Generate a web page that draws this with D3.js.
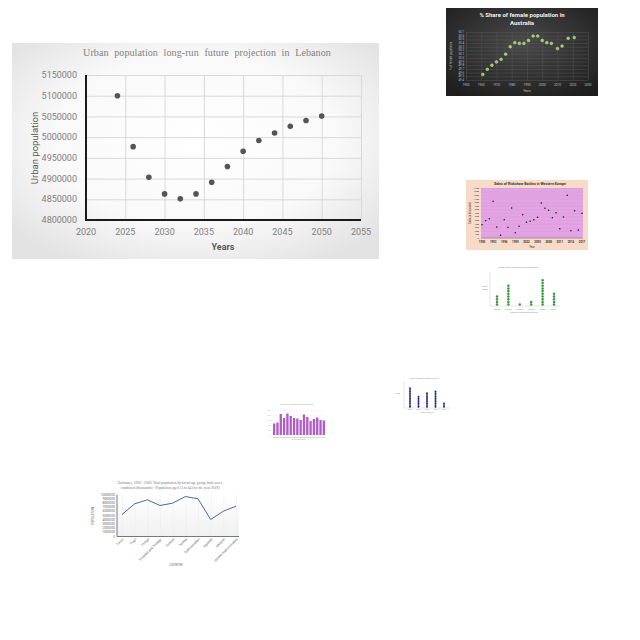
<html>
<head>
  <meta charset="utf-8">
  <script src="https://d3js.org/d3.v7.min.js"></script>
  <style>
    body { margin: 0; background: #fff; }
    text { font-family: Roboto, sans-serif; }
  </style>
</head>
<body>
  <svg id="chart" width="640" height="640"></svg>
  <script>
    // ---- main chart: urban population, Lebanon
    const urbanYears = [2024, 2026, 2028, 2030, 2032, 2034, 2036, 2038, 2040, 2042, 2044, 2046, 2048, 2050];
    const urbanPop = [5100000, 4977000, 4903000, 4863000, 4851000, 4863000, 4891000, 4929000, 4966000, 4992000, 5010000, 5026000, 5040000, 5051000];
    const urbanXTicks = [2020, 2025, 2030, 2035, 2040, 2045, 2050, 2055];
    const urbanYTicks = [4800000, 4850000, 4900000, 4950000, 5000000, 5050000, 5100000, 5150000];

    // ---- thumbnail: female share, Australia
    const ausYears = [1961, 1964, 1967, 1970, 1973, 1976, 1979, 1982, 1985, 1988, 1991, 1994, 1997, 2000, 2003, 2006, 2010, 2013, 2017, 2021];
    const ausShare = [49.55, 49.69, 49.80, 49.89, 49.96, 50.10, 50.30, 50.41, 50.39, 50.39, 50.47, 50.59, 50.59, 50.47, 50.41, 50.39, 50.25, 50.32, 50.53, 50.55];
    const ausXTicks = [1950, 1960, 1970, 1980, 1990, 2000, 2010, 2020, 2030];
    const ausYTicks = d3.range(49.4, 50.75, 0.1);

    // ---- thumbnail: sales scatter
    const salesYears = d3.range(1990, 2018);
    const salesValues = [373, 485, 541, 1027, 308, 75, 513, 299, 840, 149, 327, 653, 439, 467, 513, 579, 980, 831, 775, 569, 709, 261, 588, 1195, 205, 765, 224, 691];
    const salesXTicks = [1990, 1993, 1996, 1999, 2002, 2005, 2008, 2011, 2014, 2017];
    const salesYTicks = d3.range(0, 1500, 100);

    // ---- thumbnail: green dot plot
    const greenCats = ["A", "B", "C", "D", "E", "F"];
    const greenCounts = [4, 8, 1, 2, 10, 5];

    // ---- thumbnail: navy dot plot
    const navyCats = ["A", "B", "C", "D", "E"];
    const navyCounts = [12, 7, 9, 10, 3];

    // ---- thumbnail: purple bars
    const purpleValues = [46, 50, 84, 68, 86, 76, 68, 66, 60, 82, 72, 56, 64, 70, 60, 58];

    // ---- thumbnail: population line
    const popCountries = ["Timor", "Togo", "Tonga", "Trinidad and Tobago", "Tunisia", "Turkey", "Turkmenistan", "Uganda", "Ukraine", "United Arab Emirates"];
    const popValues = [5240000, 7780000, 8730000, 7380000, 7940000, 9520000, 8970000, 4050000, 6030000, 7220000];
    const popYTicks = d3.range(0, 11000000, 1000000);

    const svg = d3.select("svg#chart");
    const defs = svg.append("defs");

    // ================= main chart =================
    let mainBg = defs.append("radialGradient").attr("id", "mainBg")
      .attr("cx", "50%").attr("cy", "45%").attr("r", "65%");
    mainBg.append("stop").attr("offset", "0%").attr("stop-color", "#ffffff");
    mainBg.append("stop").attr("offset", "60%").attr("stop-color", "#f9f9f9");
    mainBg.append("stop").attr("offset", "100%").attr("stop-color", "#e3e3e3");

    const main = svg.append("g").attr("id", "main");
    main.append("rect")
      .attr("x", 12).attr("y", 43).attr("width", 367).attr("height", 216)
      .attr("fill", "url(#mainBg)");

    const xMain = d3.scaleLinear().domain([2020, 2055]).range([86, 361]);
    const yMain = d3.scaleLinear().domain([4800000, 5150000]).range([220, 75]);

    // gridlines
    main.append("g")
      .attr("transform", `translate(0,220)`)
      .call(d3.axisBottom(xMain).tickValues(urbanXTicks).tickSize(-145).tickFormat(""))
      .call(g => g.select(".domain").remove())
      .call(g => g.selectAll("line").attr("stroke", "#d9d9d9"));
    main.append("g")
      .attr("transform", `translate(86,0)`)
      .call(d3.axisLeft(yMain).tickValues(urbanYTicks).tickSize(-275).tickFormat(""))
      .call(g => g.select(".domain").remove())
      .call(g => g.selectAll("line").attr("stroke", "#d9d9d9"));

    // axis lines
    main.append("line").attr("x1", 86).attr("x2", 86).attr("y1", 75).attr("y2", 221)
      .attr("stroke", "#1a1a1a").attr("stroke-width", 2);
    main.append("line").attr("x1", 85).attr("x2", 361).attr("y1", 220).attr("y2", 220)
      .attr("stroke", "#1a1a1a").attr("stroke-width", 2);

    // tick labels
    main.append("g").selectAll("text").data(urbanXTicks).join("text")
      .attr("x", d => xMain(d)).attr("y", 235)
      .attr("text-anchor", "middle")
      .attr("font-size", 9).attr("fill", "#808080")
      .text(d => d);
    main.append("g").selectAll("text").data(urbanYTicks).join("text")
      .attr("x", 77).attr("y", d => yMain(d) + 3.2)
      .attr("text-anchor", "end")
      .attr("font-size", 9).attr("fill", "#808080")
      .text(d => d);

    main.append("text")
      .attr("x", 223).attr("y", 250)
      .attr("text-anchor", "middle")
      .attr("font-size", 9).attr("font-weight", "bold").attr("fill", "#595959")
      .text("Years");
    main.append("text")
      .attr("transform", "translate(38,148) rotate(-90)")
      .attr("text-anchor", "middle")
      .attr("font-size", 9.5).attr("fill", "#595959")
      .text("Urban population");
    main.append("text")
      .attr("x", 207).attr("y", 55.5)
      .attr("text-anchor", "middle")
      .style("font-family", "'Liberation Serif', serif")
      .attr("font-size", 10).attr("letter-spacing", 0.1).attr("word-spacing", 3)
      .attr("fill", "#7f7f7f")
      .text("Urban population long-run future projection in Lebanon");

    main.append("g").selectAll("circle").data(urbanYears).join("circle")
      .attr("cx", d => xMain(d))
      .attr("cy", (d, i) => yMain(urbanPop[i]))
      .attr("r", 2.8)
      .attr("fill", "#555555");

    // ================= Australia thumbnail =================
    let ausBg = defs.append("radialGradient").attr("id", "ausBg")
      .attr("cx", "50%").attr("cy", "40%").attr("r", "70%");
    ausBg.append("stop").attr("offset", "0%").attr("stop-color", "#4a4a4a");
    ausBg.append("stop").attr("offset", "100%").attr("stop-color", "#1e1e1e");

    const aus = svg.append("g").attr("id", "aus");
    aus.append("rect").attr("x", 446).attr("y", 8).attr("width", 152).attr("height", 88)
      .attr("fill", "url(#ausBg)");
    const xAus = d3.scaleLinear().domain([1950, 2030]).range([466, 588]);
    const yAus = d3.scaleLinear().domain([49.4, 50.7]).range([80, 32]);

    aus.append("g").attr("transform", "translate(0,80)")
      .call(d3.axisBottom(xAus).tickValues(ausXTicks).tickSize(-48).tickFormat(""))
      .call(g => g.select(".domain").remove())
      .call(g => g.selectAll("line").attr("stroke", "#5e5e5e").attr("stroke-width", 0.4));
    aus.append("g").attr("transform", "translate(466,0)")
      .call(d3.axisLeft(yAus).tickValues(ausYTicks).tickSize(-122).tickFormat(""))
      .call(g => g.select(".domain").remove())
      .call(g => g.selectAll("line").attr("stroke", "#5e5e5e").attr("stroke-width", 0.4));

    aus.append("g").selectAll("text").data(ausXTicks).join("text")
      .attr("x", d => xAus(d)).attr("y", 86)
      .attr("text-anchor", "middle").attr("font-size", 3.2).attr("fill", "#bdbdbd")
      .text(d => d);
    aus.append("g").selectAll("text").data(ausYTicks).join("text")
      .attr("x", 464).attr("y", d => yAus(d) + 1)
      .attr("text-anchor", "end").attr("font-size", 2.8).attr("fill", "#bdbdbd")
      .text(d => d3.format(".1f")(d));
    aus.append("text").attr("x", 527).attr("y", 92)
      .attr("text-anchor", "middle").attr("font-size", 3).attr("fill", "#bdbdbd")
      .text("Years");
    aus.append("text").attr("transform", "translate(452,56) rotate(-90)")
      .attr("text-anchor", "middle").attr("font-size", 2.8).attr("fill", "#bdbdbd")
      .text("% of female population");
    aus.append("text").attr("x", 522).attr("y", 17)
      .attr("text-anchor", "middle").attr("font-size", 6).attr("font-weight", "bold").attr("fill", "#f2f2f2")
      .text("% Share of female population in");
    aus.append("text").attr("x", 522).attr("y", 24.5)
      .attr("text-anchor", "middle").attr("font-size", 6).attr("font-weight", "bold").attr("fill", "#f2f2f2")
      .text("Australia");
    aus.append("g").selectAll("circle").data(ausYears).join("circle")
      .attr("cx", d => xAus(d))
      .attr("cy", (d, i) => yAus(ausShare[i]))
      .attr("r", 1.4)
      .attr("fill", "#92d050").attr("stroke", "#dff5c8").attr("stroke-width", 0.4);

    // ================= sales thumbnail =================
    const sales = svg.append("g").attr("id", "sales");
    sales.append("rect").attr("x", 466).attr("y", 180).attr("width", 122).attr("height", 70)
      .attr("fill", "#f7dac8");
    sales.append("rect").attr("x", 481).attr("y", 188).attr("width", 102).attr("height", 50)
      .attr("fill", "#e3a4e3");
    const xSales = d3.scaleLinear().domain([1990, 2017]).range([482, 582]);
    const ySales = d3.scaleLinear().domain([0, 1400]).range([238, 188]);
    sales.append("g").attr("transform", "translate(481,0)")
      .call(d3.axisLeft(ySales).tickValues(salesYTicks).tickSize(-102).tickFormat(""))
      .call(g => g.select(".domain").remove())
      .call(g => g.selectAll("line").attr("stroke", "#d48fd6").attr("stroke-width", 0.3));
    sales.append("line").attr("x1", 481).attr("x2", 583).attr("y1", 238).attr("y2", 238)
      .attr("stroke", "#555").attr("stroke-width", 0.4);
    sales.append("g").selectAll("text").data(salesXTicks).join("text")
      .attr("x", d => xSales(d)).attr("y", 242.5)
      .attr("text-anchor", "middle").attr("font-size", 2.8).attr("font-weight", "bold").attr("fill", "#333")
      .text(d => d);
    sales.append("g").selectAll("text").data(salesYTicks).join("text")
      .attr("x", 479).attr("y", d => ySales(d) + 0.9)
      .attr("text-anchor", "end").attr("font-size", 2.5).attr("fill", "#333")
      .text(d => d);
    sales.append("text").attr("x", 532).attr("y", 247.5)
      .attr("text-anchor", "middle").attr("font-size", 2.8).attr("fill", "#333")
      .text("Year");
    sales.append("text").attr("transform", "translate(471,213) rotate(-90)")
      .attr("text-anchor", "middle").attr("font-size", 2.6).attr("fill", "#333")
      .text("Sales in thousands");
    sales.append("text").attr("x", 530).attr("y", 184.5)
      .attr("text-anchor", "middle").attr("font-size", 3.6).attr("font-weight", "bold").attr("fill", "#333")
      .text("Sales of Rickshaw Bottles in Western Europe");
    sales.append("g").selectAll("circle").data(salesYears).join("circle")
      .attr("cx", d => xSales(d))
      .attr("cy", (d, i) => ySales(salesValues[i]))
      .attr("r", 0.8).attr("fill", "#1a1a1a");

    // ================= green dot plot thumbnail =================
    const green = svg.append("g").attr("id", "green");
    const xGreen = d3.scalePoint().domain(greenCats).range([497, 554]);
    green.append("line").attr("x1", 490).attr("x2", 560).attr("y1", 306).attr("y2", 306)
      .attr("stroke", "#bbb").attr("stroke-width", 0.4);
    green.append("line").attr("x1", 490).attr("x2", 490).attr("y1", 272).attr("y2", 306)
      .attr("stroke", "#bbb").attr("stroke-width", 0.4);
    greenCats.forEach((c, i) => {
      green.append("g").selectAll("circle").data(d3.range(greenCounts[i])).join("circle")
        .attr("cx", xGreen(c))
        .attr("cy", k => 304.6 - k * 2.7)
        .attr("r", 1.25)
        .attr("fill", "#3a9a3a");
    });
    green.append("g").selectAll("text").data(greenCats).join("text")
      .attr("x", d => xGreen(d)).attr("y", 309.5)
      .attr("text-anchor", "middle").attr("font-size", 1.8).attr("fill", "#888")
      .text(d => "Group " + d);
    green.append("text").attr("x", 524).attr("y", 313)
      .attr("text-anchor", "middle").attr("font-size", 1.8).attr("fill", "#888")
      .text("Number of observations per group");
    green.append("text").attr("x", 518).attr("y", 268)
      .attr("text-anchor", "middle").attr("font-size", 1.8).attr("fill", "#888")
      .text("Number of items per group in the selected sample");
    green.append("text").attr("x", 485).attr("y", 287)
      .attr("text-anchor", "middle").attr("font-size", 2).attr("fill", "#777")
      .text("No. of");
    green.append("text").attr("x", 485).attr("y", 290)
      .attr("text-anchor", "middle").attr("font-size", 2).attr("fill", "#777")
      .text("items");

    // ================= navy dot plot thumbnail =================
    const navy = svg.append("g").attr("id", "navy");
    const xNavy = d3.scalePoint().domain(navyCats).range([410, 444]);
    navy.append("line").attr("x1", 404).attr("x2", 450).attr("y1", 408).attr("y2", 408)
      .attr("stroke", "#bbb").attr("stroke-width", 0.4);
    navy.append("line").attr("x1", 404).attr("x2", 404).attr("y1", 382).attr("y2", 408)
      .attr("stroke", "#bbb").attr("stroke-width", 0.4);
    navyCats.forEach((c, i) => {
      navy.append("g").selectAll("circle").data(d3.range(navyCounts[i])).join("circle")
        .attr("cx", xNavy(c))
        .attr("cy", k => 406.8 - k * 1.7)
        .attr("r", 0.95)
        .attr("fill", "#1f1f7a");
    });
    navy.append("g").selectAll("text").data(navyCats).join("text")
      .attr("x", d => xNavy(d)).attr("y", 410)
      .attr("text-anchor", "middle").attr("font-size", 1.4).attr("fill", "#888")
      .text(d => "Type " + d);
    navy.append("text").attr("x", 427).attr("y", 412.5)
      .attr("text-anchor", "middle").attr("font-size", 1.4).attr("fill", "#888")
      .text("Category of response");
    navy.append("text").attr("x", 424).attr("y", 379)
      .attr("text-anchor", "middle").attr("font-size", 1.4).attr("fill", "#888")
      .text("Number of responses by category in the survey");
    navy.append("text").attr("x", 398).attr("y", 394)
      .attr("text-anchor", "middle").attr("font-size", 1.6).attr("fill", "#777")
      .text("Count");

    // ================= purple bars thumbnail =================
    const purple = svg.append("g").attr("id", "purple");
    const xPurple = d3.scaleBand().domain(d3.range(purpleValues.length)).range([272, 326]).padding(0.3);
    const yPurple = d3.scaleLinear().domain([0, 100]).range([435, 410]);
    purple.append("g").attr("transform", "translate(271,0)")
      .call(d3.axisLeft(yPurple).ticks(5).tickSize(-55).tickFormat(""))
      .call(g => g.select(".domain").remove())
      .call(g => g.selectAll("line").attr("stroke", "#e6e6e6").attr("stroke-width", 0.3));
    purple.append("g").selectAll("rect").data(purpleValues).join("rect")
      .attr("x", (d, i) => xPurple(i))
      .attr("y", d => yPurple(d))
      .attr("width", xPurple.bandwidth())
      .attr("height", d => 435 - yPurple(d))
      .attr("fill", "#b05cc4");
    purple.append("g").selectAll("text").data(purpleValues).join("text")
      .attr("x", (d, i) => xPurple(i) + xPurple.bandwidth() / 2).attr("y", 437.5)
      .attr("text-anchor", "middle").attr("font-size", 1.5).attr("fill", "#999")
      .text((d, i) => 2000 + i);
    purple.append("text").attr("x", 298).attr("y", 440)
      .attr("text-anchor", "middle").attr("font-size", 1.5).attr("fill", "#999")
      .text("Year of measurement");
    purple.append("text").attr("x", 297).attr("y", 405)
      .attr("text-anchor", "middle").attr("font-size", 1.5).attr("fill", "#999")
      .text("Annual values recorded for the selected indicator");
    purple.append("g").selectAll("text").data(yPurple.ticks(5)).join("text")
      .attr("x", 270).attr("y", d => yPurple(d) + 0.5)
      .attr("text-anchor", "end").attr("font-size", 1.5).attr("fill", "#999")
      .text(d => d);

    // ================= population line thumbnail =================
    let popBg = defs.append("linearGradient").attr("id", "popBg")
      .attr("x1", 0).attr("x2", 0).attr("y1", 0).attr("y2", 1);
    popBg.append("stop").attr("offset", "0%").attr("stop-color", "#ffffff");
    popBg.append("stop").attr("offset", "100%").attr("stop-color", "#f0f0f0");

    const pop = svg.append("g").attr("id", "pop");
    const xPop = d3.scalePoint().domain(popCountries).range([122, 236]);
    const yPop = d3.scaleLinear().domain([0, 10000000]).range([536.5, 494.5]);
    pop.append("rect").attr("x", 117).attr("y", 494.5).attr("width", 122).attr("height", 42)
      .attr("fill", "url(#popBg)");
    pop.append("g").attr("transform", "translate(0,536.5)")
      .call(d3.axisBottom(xPop).tickSize(-42).tickFormat(""))
      .call(g => g.select(".domain").remove())
      .call(g => g.selectAll("line").attr("stroke", "#e8e8e8").attr("stroke-width", 0.4));
    pop.append("line").attr("x1", 117).attr("x2", 117).attr("y1", 494.5).attr("y2", 536.5)
      .attr("stroke", "#555").attr("stroke-width", 0.8);
    pop.append("line").attr("x1", 117).attr("x2", 239).attr("y1", 536.5).attr("y2", 536.5)
      .attr("stroke", "#555").attr("stroke-width", 0.8);
    pop.append("g").selectAll("text").data(popYTicks).join("text")
      .attr("x", 115).attr("y", d => yPop(d) + 1)
      .attr("text-anchor", "end").attr("font-size", 3.2).attr("fill", "#666")
      .text(d => d);
    pop.append("g").selectAll("text").data(popCountries).join("text")
      .attr("transform", d => `translate(${xPop(d) + 2},${539.5}) rotate(-45)`)
      .attr("text-anchor", "end").attr("font-size", 3.4).attr("fill", "#666")
      .text(d => d);
    pop.append("path")
      .datum(popCountries)
      .attr("d", d3.line().x(d => xPop(d)).y((d, i) => yPop(popValues[i])))
      .attr("fill", "none").attr("stroke", "#4a6a9a").attr("stroke-width", 1);
    pop.append("text").attr("x", 176).attr("y", 566)
      .attr("text-anchor", "middle").attr("font-size", 3).attr("fill", "#666")
      .text("COUNTRY");
    pop.append("text").attr("transform", "translate(94,516) rotate(-90)")
      .attr("text-anchor", "middle").attr("font-size", 3).attr("fill", "#666")
      .text("POPULATION");
    pop.append("text").attr("x", 170).attr("y", 484)
      .attr("text-anchor", "middle").attr("font-size", 3.6).attr("fill", "#777")
      .style("font-family", "'Liberation Serif', serif")
      .text("Estimates, 1950 - 2020: Total population by broad age group, both sexes");
    pop.append("text").attr("x", 170).attr("y", 488.5)
      .attr("text-anchor", "middle").attr("font-size", 3.6).attr("fill", "#777")
      .style("font-family", "'Liberation Serif', serif")
      .text("combined (thousands) - Population aged 15 to 64 (for the year 2019)");
  </script>
</body>
</html>
